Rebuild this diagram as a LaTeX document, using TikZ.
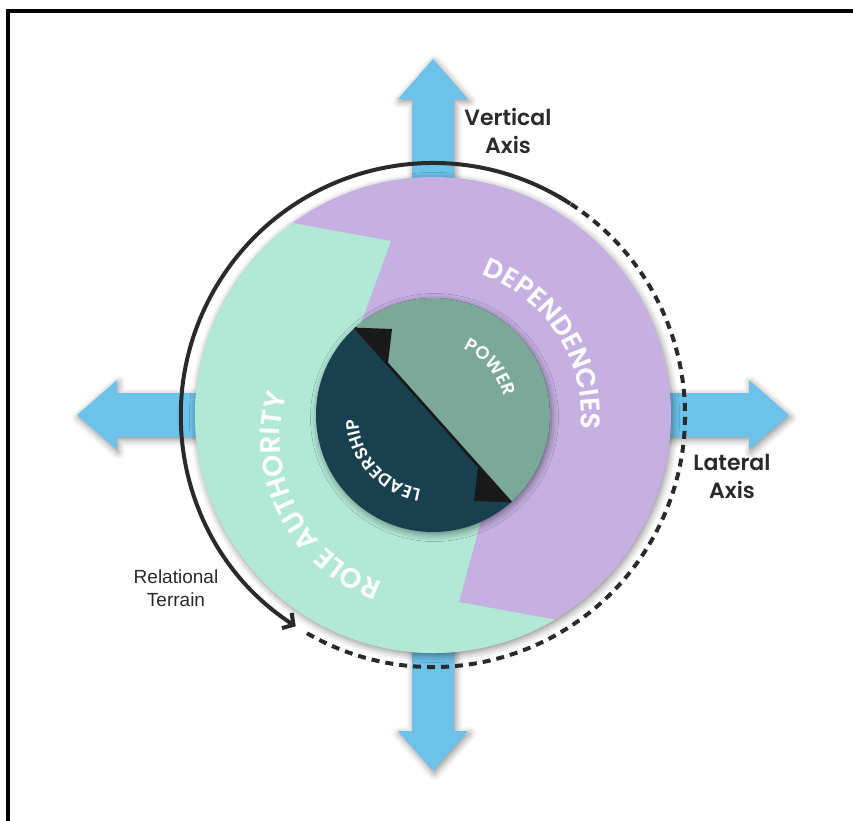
\documentclass[tikz,border=0pt]{standalone}
\usepackage{fontspec}
\setmainfont{Poppins}
\newfontfamily\labelfont{Poppins SemiBold}
\newfontfamily\termfont{Liberation Sans}
\newfontfamily\ringfont[LetterSpace=4]{Poppins SemiBold}
\usetikzlibrary{shadows.blur,decorations.text,arrows.meta}

\definecolor{axisblue}{HTML}{6DC2EA}
\definecolor{ringpurple}{HTML}{C5B0E1}
\definecolor{ringgreen}{HTML}{B2E8D6}
\definecolor{powergreen}{HTML}{7BA898}
\definecolor{leaddark}{HTML}{19404E}
\definecolor{inkgray}{HTML}{2A2A2A}

\begin{document}
\begin{tikzpicture}[x=1pt,y=1pt,
  softshadow/.style={blur shadow={shadow blur radius=7pt,shadow xshift=1.5pt,shadow yshift=-2.5pt,shadow opacity=45}},
  axisarrow/.style={fill=axisblue,softshadow},
  orbit/.style={line width=4pt,draw=inkgray},
  ringtext/.style={decorate,decoration={text along path,text align=center,text color=white,text={#1}}},
  axislabel/.style={align=center,text=inkgray,font=\labelfont\fontsize{22}{28}\selectfont},
]
\clip (-433,-405) rectangle (420,415);

% outer frame
\draw[line width=3.2pt] (-425,-420) -- (-425,404) -- (430,404);

% the two axes
\fill[axisarrow] (-21,-316) -- (-21,316) -- (-35,316) -- (0,356) -- (35,316) -- (21,316)
  -- (21,-316) -- (35,-316) -- (0,-356) -- (-35,-316) -- cycle;
\fill[axisarrow] (-316,-22) -- (316,-22) -- (316,-35) -- (356,0) -- (316,35) -- (316,22)
  -- (-316,22) -- (-316,35) -- (-356,0) -- (-316,-35) -- cycle;

% relational terrain orbit
\draw[orbit,-{Straight Barb[length=8pt,width=18pt,line width=4pt]}] (57:252) arc[start angle=57,end angle=237,radius=252];
\draw[orbit,line width=4pt,dash pattern=on 8pt off 6pt] (-120:252) arc[start angle=-120,end angle=60,radius=252];

% outer ring: dependencies and role authority
\fill[ringpurple,softshadow] (0,0) circle[radius=238];
\begin{scope}
  \clip (0,0) circle[radius=238];
  \fill[ringgreen] (-233,209) -- (-42,174) -- (-80,70) -- (55,-80) -- (26,-187) -- (217,-222)
    -- (217,-305) -- (-283,-305) -- (-283,209) -- cycle;
\end{scope}

% inner disc: leadership and power
\fill[leaddark,softshadow] (0,0) circle[radius=117];
\fill[powergreen] (131.7:117) arc[start angle=131.7,end angle=-48.3,radius=117] -- cycle;
\draw[line width=2.6pt,black!90] (131.7:117) -- (-48.3:117);
\fill[black!90] (131.7:117) -- (-41,86) -- (-45,52) -- cycle;
\fill[black!90] (-48.3:117) -- (41,-86) -- (45,-52) -- cycle;

% curved ring labels
\path[ringtext={|\ringfont\fontsize{18}{18}\selectfont|POWER}]
  (100:73) arc[start angle=100,end angle=-20,radius=73];
\path[ringtext={|\ringfont\fontsize{17.5}{17.5}\selectfont|LEADERSHIP}]
  (-48:75) arc[start angle=-48,end angle=-228,radius=75];
\path[ringtext={|\ringfont\fontsize{27}{27}\selectfont|DEPENDENCIES}]
  (122.7:148) arc[start angle=122.7,end angle=-57.3,radius=148];
\path[shift={(0,-23)},ringtext={|\ringfont\fontsize{28}{28}\selectfont|ROLE AUTHORITY}]
  (297:153) arc[start angle=297,end angle=117,radius=153];

% axis and terrain labels
\node[axislabel] (vlabel) at (75,284) {Vertical\\Axis};
\node[axislabel] (hlabel) at (299,-61) {Lateral\\Axis};
\node[align=center,text=inkgray,font=\termfont\fontsize{19}{23}\selectfont] (tlabel) at (-257,-173) {Relational\\Terrain};
\end{tikzpicture}
\end{document}
